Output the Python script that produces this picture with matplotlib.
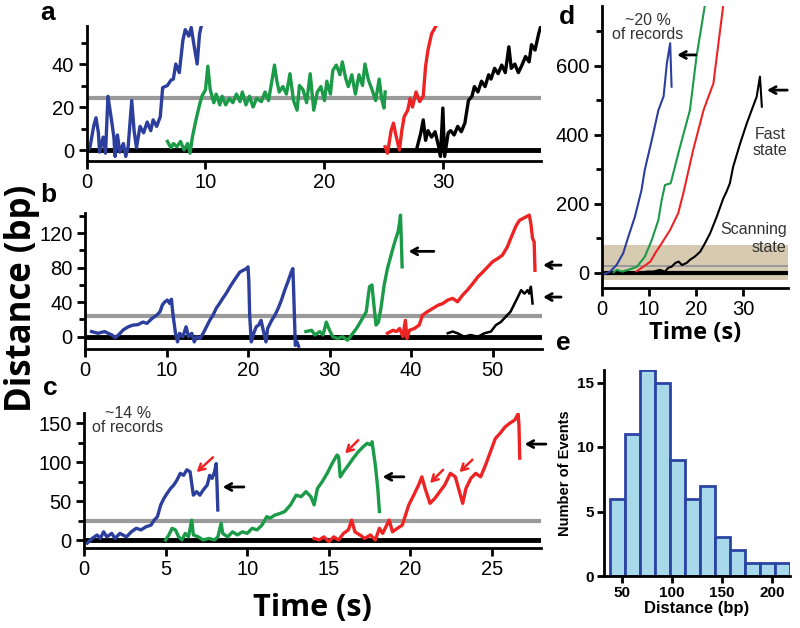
import matplotlib
matplotlib.use("Agg")
import matplotlib.pyplot as plt

# ---------------- data ----------------
# panel a
a_blue_t = [0.0,0.3,0.6,0.8,1.0,1.1,1.4,1.6,1.8,2.1,2.3,2.4,2.6,2.8,3.1,3.3,3.5,3.8,4.0,4.2,4.5,4.8,5.1,5.4,5.6,5.9,6.2,6.4,6.8,7.1,7.3,7.5,7.8,8.1,8.3,8.6,8.8,9.0,9.3,9.5,9.7]
a_blue_y = [-1,1.5,11,15,8,-1,6,-1.5,25,14,6,-3,7,-1,3,-3,1.5,23,9,1,11,8,13,9,14,11,15.5,29,30,32.5,33,40,36,51,56,53,57,50,40,54,59]
a_green_t = [6.8,7.1,7.3,7.6,7.9,8.2,8.5,8.7,8.9,9.2,9.5,9.7,10.0,10.2,10.4,10.7,10.9,11.2,11.4,11.7,12.0,12.3,12.6,12.9,13.1,13.4,13.7,14.0,14.3,14.7,15.0,15.3,15.5,15.8,16.0,16.2,16.5,16.8,17.1,17.4,17.7,17.9,18.2,18.5,18.8,19.1,19.4,19.7,20.0,20.2,20.5,20.7,21.0,21.3,21.5,21.8,22.0,22.3,22.6,22.9,23.2,23.4,23.7,24.0,24.3,24.6,24.8,25.0,25.1]
a_green_y = [4,1,3,1.5,4,0,3,-1.5,6,14,21,25,28,39,28,22,26,21,25,21,24,22,26,22.5,27,21,25,20,24,22.5,27,23,29.5,39.5,32,27,29.5,26,35.5,23,18.5,30,28,22,35.5,18.5,27,29.5,23,32,26,37,39.5,35,41,33,29.5,35,26,35,30,40,32.5,28,23,33,24,19.5,27]
a_red_t = [25.1,25.3,25.6,25.8,26.0,26.3,26.5,26.7,27.0,27.2,27.4,27.7,28.0,28.3,28.5,28.7,29.0,29.5]
a_red_y = [1.5,-1.5,9,12.5,7,0,9,15.5,18.5,24,20,27,22.5,25,39,46.5,54,59]
a_black_t = [27.8,28.1,28.3,28.5,28.7,29.0,29.3,29.6,29.75,29.95,30.1,30.4,30.6,30.9,31.2,31.5,31.8,32.1,32.4,32.6,32.9,33.2,33.5,33.8,34.0,34.3,34.6,34.9,35.2,35.5,35.7,36.0,36.3,36.6,36.9,37.2,37.4,37.7,38.0,38.2]
a_black_y = [1.5,8,14,4.5,9,6,8.5,1.5,-3,19.5,-3,8,9,7,11,8.5,12.5,23,25,29.5,27,32,29.5,35,33,38,35.5,39.5,36,48,38,40,36,39.5,43.5,41,49,46.5,54,58]

# panel b
b_blue_t = [0.8,1.6,2.4,3.3,3.7,4.1,4.7,5.3,5.9,6.5,7.1,7.6,8.2,8.8,9.2,9.5,9.8,10.1,10.4,10.6,10.8,11.1,11.35,11.6,12.0,12.4,12.7,13.1,13.4,13.7,14.1,14.5,14.9,15.3,15.7,16.1,16.5,16.9,17.3,17.8,18.2,18.6,19.0,19.4,19.8,20.0,20.1,20.2,20.4,20.7,21.0,21.3,21.6,21.9,22.2,22.4,22.9,23.3,23.7,24.1,24.5,24.9,25.3,25.5,25.6,25.8,26.0,26.2]
b_blue_y = [6,4,6,2,-1,2,8,11.5,13.5,14,17,15.5,21,25,29,37,40.5,42.5,38.5,43.5,25,4,-6,4,0,11.5,0,4,-6,0,-2,4,11.5,19,25,33,38.5,44.5,50,58,64,69.5,75,77,79,81,64,25,-6,4,11.5,13.5,19,6,-6,9.5,19,25,33,42.5,54,64,75,79,52,-10,-6,-11]
b_green_t = [27.1,27.8,28.2,28.8,29.2,29.6,30.0,30.4,31.0,31.6,32.2,32.7,33.3,33.9,34.5,34.9,35.2,35.4,35.7,36.0,36.3,36.7,37.1,37.6,38.0,38.4,38.6,38.7,38.8,38.9]
b_green_y = [6,7.5,2,6,2,17,7.5,0,-2,0,-4,2,9.5,19,29,58,60,40.5,13.5,17,33,60,79,96.5,110,121.5,133,141,114,81]
b_red_t = [37.1,37.8,38.2,38.6,39.0,39.3,39.5,39.8,40.4,41.0,41.4,42.0,42.7,43.3,43.9,44.5,45.1,45.7,46.3,46.9,47.6,48.2,48.8,49.4,50.0,50.6,51.2,51.8,52.4,52.9,53.3,53.7,54.1,54.5,54.7,54.9,55.1,55.2]
b_red_y = [4,7.5,6,9.5,0,19,-2,7.5,9.5,13.5,25,29,33,36.5,38.5,42.5,44.5,40.5,48,54,62,69.5,75,81,87,90.5,94.5,104,118,129,135,137,139,141,131,114,110,77]
b_black_t = [44.5,45.1,45.7,46.5,47.3,48.2,49.0,49.8,50.4,51.0,51.6,52.2,52.7,53.1,53.5,53.9,54.3,54.5,54.7,54.9]
b_black_y = [4,6,4,0,2,0,4,6,13.5,17,23,29,38.5,46,54,50,54,50,58,38.5]

# panel c
c_blue_t = [0.2,0.5,0.8,1.0,1.2,1.4,1.7,1.9,2.2,2.6,2.9,3.2,3.5,3.8,4.1,4.3,4.5,4.7,4.9,5.1,5.3,5.5,5.7,5.9,6.1,6.3,6.5,6.6,6.7,6.9,7.1,7.3,7.55,7.7,7.85,8.0,8.1,8.15,8.2]
c_blue_y = [-4,2,6.5,2,10.5,4,8.5,2,8.5,4,10.5,15,13,17,19,25.5,30,45,53.5,60,66,70.5,77,85.5,83,90,87.5,72.5,57.5,62,57.5,64,70.5,83,79,87.5,98,70.5,38.5]
c_green_t = [5.0,5.2,5.4,5.6,5.8,6.0,6.2,6.4,6.6,6.7,7.0,7.3,7.65,8.0,8.2,8.4,8.5,8.8,9.1,9.4,9.7,10.0,10.3,10.6,10.9,11.2,11.4,11.7,12.0,12.3,12.65,13.0,13.3,13.6,13.9,14.1,14.3,14.6,14.9,15.2,15.5,15.6,15.7,15.9,16.2,16.5,16.8,17.1,17.35,17.55,17.65,17.85,18.0,18.1]
c_green_y = [0,6.5,15,13,4,0,8.5,4,25.5,6.5,4,0,2,0,4,21.5,8.5,4,10.5,6.5,10.5,8.5,15,13,19,30,28,32,34,36.5,45,57.5,55.5,62,55.5,45,66,75,85.5,98,109,107,81,87.5,96,105,113,119.5,124,122,126,96,66,36.5]
c_red_t = [14.1,14.4,14.7,15.0,15.3,15.6,15.9,16.2,16.4,16.6,16.9,17.2,17.55,17.85,18.1,18.3,18.5,18.7,18.9,19.2,19.5,19.7,19.9,20.2,20.5,20.7,20.9,21.2,21.5,21.8,22.1,22.45,22.75,22.95,23.2,23.4,23.7,24.0,24.3,24.6,24.9,25.2,25.5,25.8,26.1,26.4,26.6,26.65,26.7]
c_red_y = [2,0,4,-2,4,0,8.5,13,25.5,10.5,6.5,2,6.5,0,15,8.5,17,25.5,10.5,15,19,32,45,57.5,70.5,81,66,47,53.5,62,70.5,85.5,81,66,47,66,79,85.5,81,96,113,130,137,145,150,154,162,147,105]

# panel d
d_blue_t = [0.6,1.7,3.1,4.5,5.6,7.0,8.4,9.1,10.6,12.0,13.1,13.8,14.5,14.8]
d_blue_y = [-3,4,23,57,105,163,240,299,386,472,512,608,666,540]
d_green_t = [2.5,3.1,4.3,5.6,7.4,9.1,10.6,12.0,12.7,13.4,14.6,14.8,16.6,18.7,20.1,21.9]
d_green_y = [2,9,4,9,18,47,96,154,212,255,260,270,366,472,627,777]
d_red_t = [7.0,7.8,8.8,10.3,11.3,12.7,14.5,16.2,17.3,19.4,21.6,23.7,25.8]
d_red_y = [0,9,18,33,57,86,125,173,231,357,472,550,777]
d_black_t = [6.7,8.1,9.5,10.9,12.3,13.4,14.1,14.8,15.6,16.3,17.0,18.0,18.7,19.8,20.9,21.9,23.0,24.4,25.8,26.5,27.2,27.9,29.4,30.8,32.9,33.6,34.0]
d_black_y = [-1,0,4,4,9,4,15,18,29,33,23,29,38,48,62,86,115,163,216,236,260,308,376,434,511,569,482]

# panel e
e_bin_left = [37.5,52.5,67.5,82.5,97.5,112.5,127.5,142.5,157.5,172.5,187.5,202.5]
e_counts = [6,11,16,15,9,6,7,3,2,1,1,1]

# ---------------- style ----------------
BLUE = '#2d3f9c'
GREEN = '#1b9a48'
RED = '#ee2424'
BLACK = '#000000'
GRAY = '#9a9a9a'
TICKFONT = 'Liberation Sans'
LW = 2.4

W, H = 800, 628
fig = plt.figure(figsize=(8, 6.28), dpi=100)


def ax_px(x0, y_top, x1, y_bot):
    return fig.add_axes([x0 / W, 1 - y_bot / H, (x1 - x0) / W, (y_bot - y_top) / H])


def style(ax, lw=2.0, size=14.5):
    for s in ['top', 'right']:
        ax.spines[s].set_visible(False)
    for s in ['left', 'bottom']:
        ax.spines[s].set_linewidth(lw)
    ax.tick_params(which='major', length=6, width=lw, labelsize=size, pad=3)
    ax.tick_params(which='minor', length=4, width=lw)
    for lab in ax.get_xticklabels() + ax.get_yticklabels():
        lab.set_fontfamily(TICKFONT)
    ax.patch.set_alpha(0)


def arrow(ax, head, tail, color='black', lw=2.0):
    ax.annotate('', xy=head, xytext=tail,
                arrowprops=dict(arrowstyle='->,head_length=0.45,head_width=0.25',
                                color=color, lw=lw, shrinkA=0, shrinkB=0),
                annotation_clip=False)


# panel a
ax = ax_px(86.5, 26.4, 541, 160.75)
ax.axhline(0, color='black', lw=3.5, zorder=1)
ax.axhline(24, color=GRAY, lw=3, zorder=1)
ax.plot(a_blue_t, a_blue_y, color=BLUE, lw=LW)
ax.plot(a_green_t, a_green_y, color=GREEN, lw=LW)
ax.plot(a_red_t, a_red_y, color=RED, lw=LW)
ax.plot(a_black_t, a_black_y, color=BLACK, lw=LW)
ax.set_xlim(0, 38.2)
ax.set_ylim(-5, 57.5)
ax.set_xticks([0, 10, 20, 30])
ax.set_yticks([0, 20, 40])
ax.set_yticks([10, 30, 50], minor=True)
style(ax)

# panel b
ax = ax_px(85, 213.4, 541.5, 348.8)
ax.axhline(0, color='black', lw=3.5, zorder=1)
ax.axhline(24, color=GRAY, lw=3, zorder=1)
ax.plot(b_blue_t, b_blue_y, color=BLUE, lw=LW)
ax.plot(b_green_t, b_green_y, color=GREEN, lw=LW)
ax.plot(b_red_t, b_red_y, color=RED, lw=LW)
ax.plot(b_black_t, b_black_y, color=BLACK, lw=1.8)
ax.set_xlim(0, 56)
ax.set_ylim(-14, 143)
ax.set_xticks([0, 10, 20, 30, 40, 50])
ax.set_yticks([0, 40, 80, 120])
ax.set_yticks([20, 60, 100, 140], minor=True)
style(ax)
arrow(ax, (39.7, 99), (42.8, 99))
arrow(ax, (56.2, 83), (58.4, 83))
arrow(ax, (56.2, 46), (58.4, 46))

# panel c
ax = ax_px(84, 412.9, 541, 547.8)
ax.axhline(0, color='black', lw=3.5, zorder=1)
ax.axhline(24, color=GRAY, lw=3, zorder=1)
ax.plot(c_blue_t, c_blue_y, color=BLUE, lw=LW)
ax.plot(c_green_t, c_green_y, color=GREEN, lw=LW)
ax.plot(c_red_t, c_red_y, color=RED, lw=LW)
ax.set_xlim(0, 28)
ax.set_ylim(-10, 163)
ax.set_xticks([0, 5, 10, 15, 20, 25])
ax.set_yticks([0, 50, 100, 150])
ax.set_yticks([25, 75, 125], minor=True)
style(ax)
arrow(ax, (8.5, 68), (9.8, 68))
arrow(ax, (18.3, 81), (19.6, 81))
arrow(ax, (27.0, 123), (28.3, 123))
arrow(ax, (6.9, 87), (7.9, 106), color=RED, lw=1.8)
arrow(ax, (16.0, 111), (16.8, 128), color=RED, lw=1.8)
arrow(ax, (21.2, 73), (22.0, 90), color=RED, lw=1.8)
arrow(ax, (23.0, 87), (23.8, 103), color=RED, lw=1.8)
ax.text(2.7, 153, '~14 %\nof records', ha='center', va='center', fontsize=11.5,
        family=TICKFONT, color='#333333', linespacing=0.95)
ax.set_xlabel('Time (s)', fontsize=22, fontweight='bold', family='Open Sans', labelpad=10)

# panel d
ax = ax_px(602, 5.6, 787.7, 287.8)
ax.axhspan(-20, 80, color='#d6cbb1', lw=0, zorder=0)
ax.axhline(20, color=GRAY, lw=1.5, zorder=1)
ax.axhline(0, color='black', lw=3, zorder=1)
ax.plot(d_blue_t, d_blue_y, color=BLUE, lw=1.5)
ax.plot(d_green_t, d_green_y, color=GREEN, lw=1.5)
ax.plot(d_red_t, d_red_y, color=RED, lw=1.5)
ax.plot(d_black_t, d_black_y, color=BLACK, lw=1.5)
ax.set_xlim(0, 39.5)
ax.set_ylim(-43, 775)
ax.set_xticks([0, 10, 20, 30])
ax.set_yticks([0, 200, 400, 600])
ax.set_yticks([100, 300, 500, 700], minor=True)
style(ax)
ax.set_xlabel('Time (s)', fontsize=17, fontweight='bold', family='Open Sans', labelpad=1)
arrow(ax, (16.0, 632), (19.9, 632))
arrow(ax, (35.1, 530), (39.4, 530))
ax.text(9.8, 712, '~20 %\nof records', ha='center', va='center', fontsize=11.5,
        family=TICKFONT, color='#333333', linespacing=0.95)
ax.text(35.8, 378, 'Fast\nstate', ha='center', va='center', fontsize=11.5,
        family=TICKFONT, color='#333333', linespacing=1.1)
ax.text(39.3, 100, 'Scanning\nstate', ha='right', va='center', fontsize=11.5,
        family=TICKFONT, color='#333333', linespacing=1.2)

# panel e
ax = ax_px(604, 369.6, 790, 576)
ax.bar(e_bin_left, e_counts, width=15, align='edge', color='#a8d9ea',
       edgecolor='#2b44a4', lw=2, zorder=2)
ax.set_xlim(32, 218)
ax.set_ylim(0, 16)
ax.set_xticks([50, 100, 150, 200])
ax.set_yticks([0, 5, 10, 15])
style(ax, size=11)
ax.tick_params(which='major', length=5, pad=2)
for lab in ax.get_xticklabels() + ax.get_yticklabels():
    lab.set_fontweight('bold')
ax.set_xlabel('Distance (bp)', fontsize=12, fontweight='bold', family=TICKFONT, labelpad=1)
ax.set_ylabel('Number of Events', fontsize=10.5, fontweight='bold', family=TICKFONT, labelpad=4)

# figure-level labels
fig.text(22 / W, 1 - 298 / H, 'Distance (bp)', rotation=90, ha='center', va='center',
         fontsize=25, fontweight='bold', family='Open Sans')
for letter, x, y in [('a', 48, 13), ('b', 48, 195), ('c', 50, 388), ('d', 567, 17), ('e', 563, 343)]:
    fig.text(x / W, 1 - y / H, letter, ha='center', va='center', fontsize=19,
             fontweight='bold', family=TICKFONT)

fig.savefig('out.png', dpi=100)
